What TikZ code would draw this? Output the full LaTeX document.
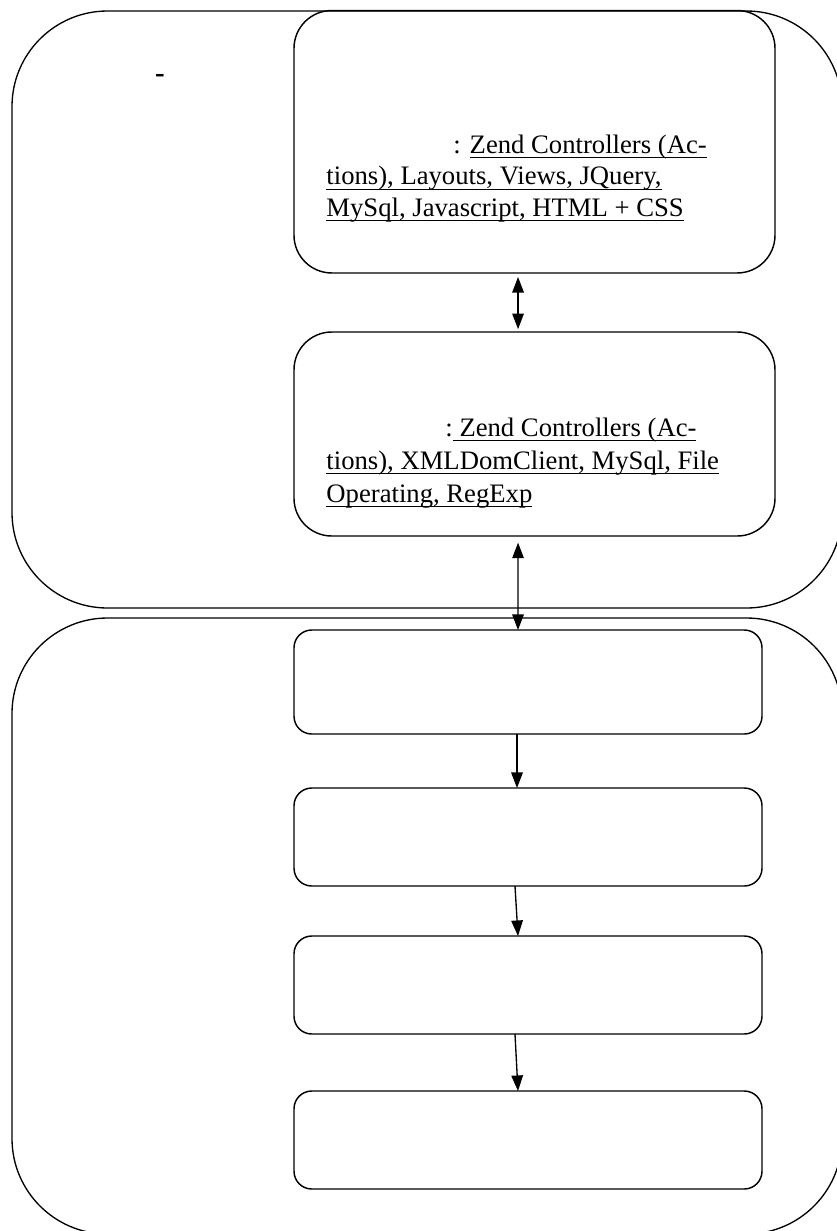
\documentclass[tikz,border=0pt]{standalone}
\usepackage{fontspec}
\setmainfont{Liberation Serif}
\usetikzlibrary{arrows.meta}
\newcommand\ulx[1]{\underline{\smash{#1}\rule[-0.6pt]{0pt}{0pt}}}
\tikzset{
  outerbox/.style={draw, line width=0.6pt, rounded corners=43pt, inner sep=0pt, outer sep=0pt, minimum width=373.5pt},
  bigbox/.style={draw, line width=0.65pt, rounded corners=17pt, inner sep=0pt, outer sep=0pt, minimum width=216.45pt},
  smallbox/.style={draw, line width=0.65pt, rounded corners=8pt, inner sep=0pt, outer sep=0pt, minimum width=210.6pt, minimum height=44.1pt},
  txt/.style={anchor=base west, inner sep=0pt, font=\fontsize{12}{13.95}\selectfont},
  conn/.style={line width=0.6pt, -{Triangle[length=7pt,width=5.2pt]}},
  dconn/.style={line width=0.6pt, {Triangle[length=7pt,width=5.2pt]}-{Triangle[length=7pt,width=5.2pt]}}
}
\begin{document}
\begin{tikzpicture}[x=0.45pt,y=-0.45pt]
\useasboundingbox (0,0) rectangle (837,1231);
\fill[white] (0,0) rectangle (837,1231);
% outer groups
\node[outerbox, minimum height=268.65pt] (O1) at (427,309.5) {};
\node[outerbox, minimum height=277.2pt] (O2) at (427,926) {};
% top boxes
\node[bigbox, minimum height=118.1pt] (A) at (534.5,141.75) {};
\node[bigbox, minimum height=91.8pt] (B) at (534.5,434) {};
% lower boxes
\node[smallbox, minimum height=46.8pt] (C) at (528,682) {};
\node[smallbox] (D) at (528,837) {};
\node[smallbox] (E) at (528,985) {};
\node[smallbox] (F) at (528,1140) {};
% title dash
\node[inner sep=0pt, font=\fontsize{13}{15}\selectfont\bfseries] (T) at (160,78) {-};
% texts
\node[txt] (A1) at (453,153) {: \ulx{Zend Controllers (Ac-}};
\node[txt] (A2) at (326,184.5) {\ulx{tions), Layouts, Views, JQuery,}};
\node[txt] (A3) at (326,216) {\ulx{MySql, Javascript, HTML + CSS}};
\node[txt] (B1) at (445,436) {:\ulx{ Zend Controllers (Ac-}};
\node[txt] (B2) at (326,469) {\ulx{tions), XMLDomClient, MySql, File}};
\node[txt] (B3) at (326,502) {\ulx{Operating, RegExp}};
% connectors
\draw[dconn, shorten <=1.8pt, shorten >=1.3pt] ([xshift=-7.4pt]A.south) -- ([xshift=-7.4pt]B.north);
\draw[dconn, shorten <=3pt] ([xshift=-7.4pt]B.south) -- ([xshift=-4.5pt]C.north);
\draw[conn] ([xshift=-4.95pt]C.south) -- ([xshift=-4.95pt]D.north);
\draw[conn] ([xshift=-5.85pt]D.south) -- ([xshift=-4.5pt]E.north);
\draw[conn] ([xshift=-5.85pt]E.south) -- ([xshift=-4.5pt]F.north);
\end{tikzpicture}
\end{document}
